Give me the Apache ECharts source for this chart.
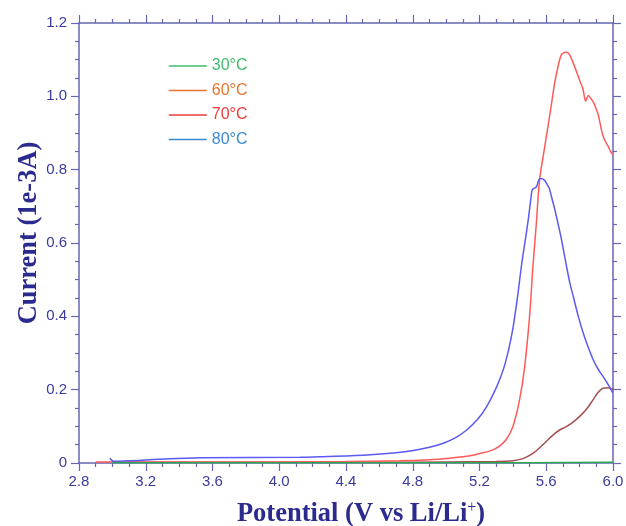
<!DOCTYPE html>
<html>
<head>
<meta charset="utf-8">
<script src="https://cdn.jsdelivr.net/npm/echarts@6/dist/echarts.min.js"></script>
<style>html,body{margin:0;padding:0;background:#fff;}#c{width:626px;height:526px;}</style>
</head>
<body>
<div id="c"></div>
<script>
const seriesNames = ['30°C', '60°C', '70°C', '80°C'];
const xTicks = ['2.8','3.2','3.6','4.0','4.4','4.8','5.2','5.6','6.0'];
const yTicks = ['0','0.2','0.4','0.6','0.8','1.0','1.2'];

const data30 = [[3.0,0.001],[3.5,0.001],[4.0,0.001],[4.5,0.001],[5.0,0.001],[5.5,0.001],[6.0,0.002]];
const data60 = [[3.0,0.002],[3.5,0.002],[4.0,0.002],[4.5,0.002],[5.0,0.003],[5.3,0.004],[5.4,0.006],[5.46,0.012],[5.52,0.026],[5.58,0.05],[5.64,0.076],[5.68,0.09],[5.72,0.099],[5.77,0.115],[5.82,0.136],[5.85,0.152],[5.88,0.172],[5.91,0.192],[5.94,0.204],[5.97,0.205],[6.0,0.201]];
const data70 = [[2.9,0.003],[3.2,0.003],[3.6,0.003],[4.0,0.003],[4.4,0.004],[4.72,0.006],[4.9,0.009],[5.02,0.013],[5.1,0.017],[5.16,0.021],[5.2,0.026],[5.25,0.031],[5.29,0.038],[5.32,0.046],[5.36,0.064],[5.40,0.099],[5.44,0.172],[5.47,0.26],[5.50,0.40],[5.52,0.535],[5.54,0.65],[5.56,0.772],[5.59,0.86],[5.61,0.917],[5.63,0.975],[5.65,1.035],[5.67,1.08],[5.69,1.113],[5.71,1.12],[5.72,1.121],[5.74,1.113],[5.77,1.081],[5.80,1.044],[5.82,1.02],[5.836,0.987],[5.852,1.002],[5.87,0.992],[5.882,0.985],[5.90,0.965],[5.912,0.949],[5.93,0.91],[5.942,0.89],[5.96,0.872],[5.972,0.863],[5.985,0.85],[6.0,0.84]];
const data80 = [[2.986,0.013],[2.995,0.008],[3.006,0.005],[3.2,0.008],[3.525,0.0145],[4.124,0.0155],[4.244,0.017],[4.524,0.022],[4.7,0.028],[4.803,0.034],[4.9,0.043],[4.983,0.054],[5.06,0.07],[5.123,0.09],[5.19,0.12],[5.243,0.154],[5.3,0.205],[5.342,0.254],[5.375,0.31],[5.402,0.372],[5.43,0.46],[5.452,0.54],[5.475,0.61],[5.492,0.663],[5.505,0.71],[5.516,0.745],[5.53,0.75],[5.542,0.754],[5.552,0.768],[5.562,0.776],[5.578,0.775],[5.592,0.77],[5.605,0.76],[5.618,0.749],[5.635,0.72],[5.652,0.69],[5.672,0.65],[5.692,0.608],[5.722,0.535],[5.742,0.49],[5.762,0.454],[5.792,0.40],[5.822,0.354],[5.852,0.315],[5.882,0.281],[5.912,0.255],[5.942,0.235],[5.972,0.213],[5.998,0.192]];

const lineColors = ['#2aa84e', '#a85050', '#ff5a5a', '#5a5af2'];
const legendColors = ['#3dbd6c', '#e8742c', '#f03a3a', '#3a8ad0'];
const allData = [data30, data60, data70, data80];

const axisColor = '#6666b4';
const labelColor = '#3a3a9c';
const titleColor = '#2b2b8f';

const chart = echarts.init(document.getElementById('c'), null, {renderer: 'canvas'});
const baseX = {
  type: 'value', min: 2.8, max: 6.0, interval: 0.4,
  axisLine: {show: true, onZero: false, lineStyle: {color: axisColor, width: 1.5}},
  axisTick: {show: true, inside: false, length: 8, lineStyle: {color: axisColor, width: 1.2}},
  minorTick: {show: true, splitNumber: 4, length: 4, lineStyle: {color: axisColor, width: 1.2}},
  splitLine: {show: false}
};
const baseY = {
  type: 'value', min: 0, max: 1.2, interval: 0.2,
  axisLine: {show: true, onZero: false, lineStyle: {color: axisColor, width: 1.5}},
  axisTick: {show: true, inside: false, length: 8, lineStyle: {color: axisColor, width: 1.2}},
  minorTick: {show: true, splitNumber: 4, length: 4, lineStyle: {color: axisColor, width: 1.2}},
  splitLine: {show: false}
};

chart.setOption({
  animation: false,
  backgroundColor: '#ffffff',
  grid: {left: 79, right: 13, top: 23, bottom: 63, containLabel: false, outerBoundsMode: 'none'},
  legend: {
    orient: 'vertical', left: 163, top: 53,
    itemWidth: 38, itemHeight: 17, itemGap: 8.5,
    textStyle: {fontFamily: 'Liberation Sans, Arial, sans-serif', fontSize: 16},
    data: seriesNames.map((n, i) => ({
      name: n,
      itemStyle: {color: 'rgba(0,0,0,0)', borderWidth: 0, opacity: 0},
      lineStyle: {color: legendColors[i], width: 1.5},
      textStyle: {color: legendColors[i]}
    }))
  },
  xAxis: [
    Object.assign({}, baseX, {
      position: 'bottom',
      axisLabel: {show: true, color: labelColor, fontSize: 15, margin: 11,
        fontFamily: 'Liberation Sans, Arial, sans-serif',
        formatter: v => xTicks[Math.round((v - 2.8) / 0.4)] || ''},
      name: '{a|Potential (V vs Li/Li}{s|+}{a|)}',
      nameLocation: 'middle', nameGap: 37, nameMoveOverlap: false,
      nameTextStyle: {
        padding: [0, 0, 0, 30],
        rich: {
          a: {fontFamily: 'Liberation Serif, Times New Roman, serif', fontWeight: 'bold', fontSize: 26.5, color: titleColor},
          s: {fontFamily: 'Liberation Serif, Times New Roman, serif', fontWeight: 'normal', fontSize: 16, color: titleColor, padding: [0, 0, 13, 0]}
        }
      }
    }),
    Object.assign({}, baseX, {position: 'top', axisLabel: {show: false}})
  ],
  yAxis: [
    Object.assign({}, baseY, {
      position: 'left',
      axisLabel: {show: true, color: labelColor, fontSize: 15, margin: 12,
        fontFamily: 'Liberation Sans, Arial, sans-serif',
        formatter: v => yTicks[Math.round(v / 0.2)] || ''},
      name: 'Current (1e-3A)',
      nameLocation: 'middle', nameGap: 36, nameMoveOverlap: false,
      nameTextStyle: {fontFamily: 'Liberation Serif, Times New Roman, serif', fontWeight: 'bold', fontSize: 26.5, color: titleColor, padding: [0, 0, 0, 20]}
    }),
    Object.assign({}, baseY, {position: 'right', axisLabel: {show: false}})
  ],
  series: seriesNames.map((n, i) => ({
    name: n, type: 'line', data: allData[i], showSymbol: false, symbol: 'none',
    smooth: 0.3,
    lineStyle: {color: lineColors[i], width: 1.5},
    itemStyle: {color: lineColors[i]},
    z: i === 0 ? 5 : 2
  }))
});
</script>
</body>
</html>
